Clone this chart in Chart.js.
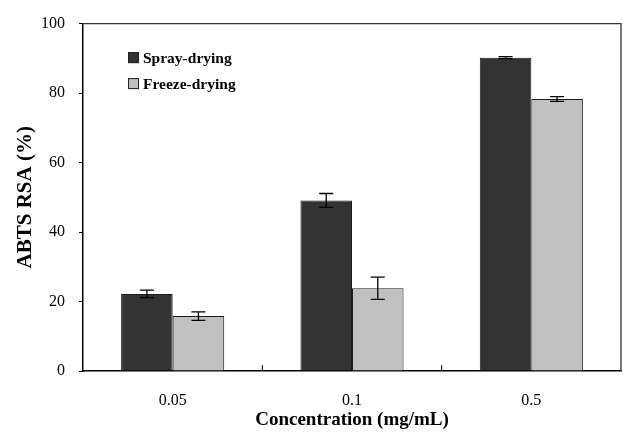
<!DOCTYPE html>
<html>
<head>
<meta charset="utf-8">
<script src="https://cdn.jsdelivr.net/npm/chart.js@4/dist/chart.umd.min.js"></script>
<style>
  html, body { margin: 0; padding: 0; background: #fff; }
  #wrap { width: 623px; height: 436px; }
</style>
</head>
<body>
<div id="wrap"><canvas id="abts-chart" width="623" height="436"></canvas></div>
<script>
// data
const concentrations = ["0.05", "0.1", "0.5"];
const sprayDrying = [22.2, 49.1, 90.2];
const sprayErr = [1.1, 2.0, 0.3];
const freezeDrying = [15.8, 23.8, 78.3];
const freezeErr = [1.2, 3.2, 0.7];
const yTicks = [0, 20, 40, 60, 80, 100];

const serif = "'Times New Roman', 'Liberation Serif', serif";
const errors = [sprayErr, freezeErr];

// error bars on top of every bar
const errorBars = {
  id: "errorBars",
  afterDatasetsDraw(chart) {
    const ctx = chart.ctx;
    const y = chart.scales.y;
    ctx.save();
    ctx.strokeStyle = "#000";
    ctx.lineWidth = 1.3;
    chart.data.datasets.forEach((ds, d) => {
      chart.getDatasetMeta(d).data.forEach((bar, i) => {
        const v = ds.data[i], e = errors[d][i];
        const top = y.getPixelForValue(v + e);
        const bot = y.getPixelForValue(v - e);
        ctx.beginPath();
        ctx.moveTo(bar.x, top); ctx.lineTo(bar.x, bot);
        ctx.moveTo(bar.x - 7, top); ctx.lineTo(bar.x + 7, top);
        ctx.moveTo(bar.x - 7, bot); ctx.lineTo(bar.x + 7, bot);
        ctx.stroke();
      });
    });
    ctx.restore();
  }
};

// box around the plot, inner ticks between categories, legend inside
const frame = {
  id: "frame",
  afterDraw(chart) {
    const ctx = chart.ctx;
    const a = chart.chartArea;
    const x = chart.scales.x;
    ctx.save();
    ctx.strokeStyle = "#333";
    ctx.lineWidth = 1.3;
    ctx.beginPath();
    ctx.moveTo(a.left, a.top); ctx.lineTo(a.right, a.top); ctx.lineTo(a.right, a.bottom);
    ctx.stroke();
    ctx.strokeStyle = "#000";
    ctx.lineWidth = 1;
    for (let i = 1; i < concentrations.length; i++) {
      const px = (x.getPixelForValue(i - 1) + x.getPixelForValue(i)) / 2;
      ctx.beginPath();
      ctx.moveTo(px, a.bottom); ctx.lineTo(px, a.bottom - 6);
      ctx.stroke();
    }
    // legend
    ctx.font = "bold 15.5px " + serif;
    ctx.textBaseline = "middle";
    chart.data.datasets.forEach((ds, d) => {
      const cy = a.top + 34 + d * 26;
      const bx = a.left + 45;
      ctx.fillStyle = ds.backgroundColor;
      ctx.fillRect(bx, cy - 5.5, 11, 11);
      ctx.strokeStyle = "#222";
      ctx.strokeRect(bx + 0.5, cy - 5, 10, 10);
      ctx.fillStyle = "#000";
      ctx.fillText(ds.label, bx + 15, cy + 1);
    });
    ctx.restore();
  }
};

new Chart(document.getElementById("abts-chart"), {
  type: "bar",
  data: {
    labels: concentrations,
    datasets: [
      {
        label: "Spray-drying",
        data: sprayDrying,
        backgroundColor: "#333333",
        borderColor: "#1a1a1a",
        borderWidth: 1
      },
      {
        label: "Freeze-drying",
        data: freezeDrying,
        backgroundColor: "#c0c0c0",
        borderColor: "#1a1a1a",
        borderWidth: 1
      }
    ]
  },
  options: {
    responsive: false,
    animation: false,
    devicePixelRatio: 1,
    layout: { padding: { top: 19, right: 2, left: 0, bottom: 0 } },
    datasets: { bar: { categoryPercentage: 0.575, barPercentage: 1 } },
    plugins: { legend: { display: false }, tooltip: { enabled: false } },
    scales: {
      x: {
        grid: { display: false, drawTicks: false },
        border: { display: true, color: "#000", width: 1.5 },
        ticks: { color: "#000", padding: 20, font: { family: serif, size: 16 } },
        title: {
          display: true,
          text: "Concentration (mg/mL)",
          color: "#000",
          font: { family: serif, size: 19, weight: "bold" },
          padding: { top: 0, bottom: 5 }
        },
        afterFit(scale) { scale.height = 65; }
      },
      y: {
        min: 0,
        max: 100,
        afterBuildTicks(scale) { scale.ticks = yTicks.map(v => ({ value: v })); },
        grid: { drawOnChartArea: false, tickLength: 4, color: "#000", lineWidth: 1 },
        border: { display: true, color: "#000", width: 1.5 },
        ticks: { color: "#000", padding: 14, font: { family: serif, size: 16 } },
        title: {
          display: true,
          text: "ABTS RSA (%)",
          color: "#000",
          font: { family: serif, size: 21, weight: "bold" },
          padding: { top: 13, bottom: 0 }
        },
        afterFit(scale) { scale.width = 83; }
      }
    }
  },
  plugins: [errorBars, frame]
});
</script>
</body>
</html>
